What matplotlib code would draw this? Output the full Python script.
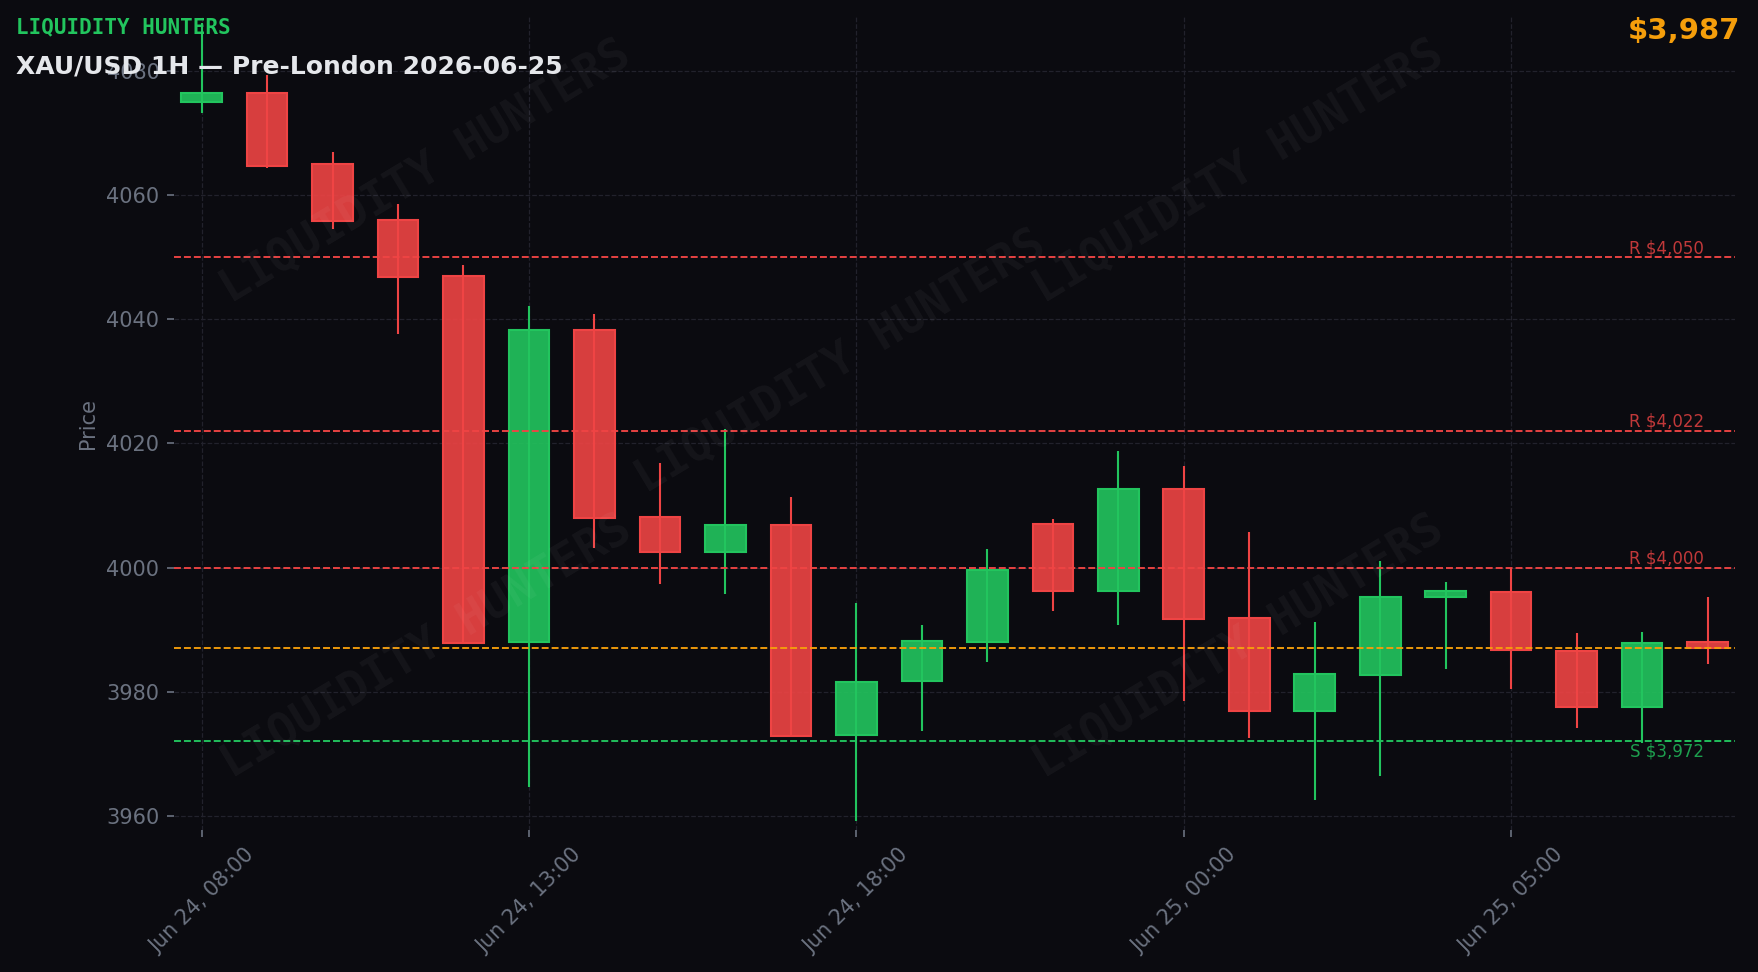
import matplotlib
matplotlib.use("Agg")
import matplotlib.pyplot as plt
from matplotlib.ticker import MultipleLocator

# hourly candles, XAU/USD (one hour missing around the daily break)
times = ["Jun 24, 08:00", "Jun 24, 09:00", "Jun 24, 10:00", "Jun 24, 11:00",
         "Jun 24, 12:00", "Jun 24, 13:00", "Jun 24, 14:00", "Jun 24, 15:00",
         "Jun 24, 16:00", "Jun 24, 17:00", "Jun 24, 18:00", "Jun 24, 19:00",
         "Jun 24, 20:00", "Jun 24, 21:00", "Jun 24, 23:00", "Jun 25, 00:00",
         "Jun 25, 01:00", "Jun 25, 02:00", "Jun 25, 03:00", "Jun 25, 04:00",
         "Jun 25, 05:00", "Jun 25, 06:00", "Jun 25, 07:00", "Jun 25, 08:00"]
opens = [4075.0, 4076.5, 4065.0, 4056.0, 4047.0, 3988.0, 4038.3, 4008.2,
         4002.5, 4006.9, 3973.0, 3981.8, 3988.0, 4007.0, 3996.3, 4012.6,
         3991.8, 3976.9, 3982.7, 3995.2, 3996.1, 3986.5, 3977.5, 3988.0]
highs = [4087.7, 4079.4, 4066.9, 4058.6, 4048.8, 4042.2, 4040.9, 4016.9,
         4022.3, 4011.4, 3994.3, 3990.8, 4003.0, 4007.9, 4018.8, 4016.4,
         4005.7, 3991.2, 4001.1, 3997.6, 4000.0, 3989.5, 3989.6, 3995.3]
lows = [4073.3, 4064.3, 4054.6, 4037.7, 3987.7, 3964.6, 4003.1, 3997.4,
        3995.7, 3972.8, 3959.2, 3973.7, 3984.8, 3993.0, 3990.8, 3978.5,
        3972.5, 3962.5, 3966.4, 3983.6, 3980.5, 3974.1, 3971.7, 3984.4]
closes = [4076.5, 4064.7, 4055.8, 4046.8, 3987.9, 4038.3, 4008.0, 4002.5,
          4006.9, 3972.9, 3981.5, 3988.2, 3999.6, 3996.3, 4012.6, 3991.7,
          3976.9, 3982.8, 3995.3, 3996.3, 3986.7, 3977.5, 3987.8, 3987.0]

resistance = [4050, 4022, 4000]
support = [3972]
last_price = 3987

BG = "#0b0b10"
GREEN = "#22c55e"
RED = "#ef4444"
ORANGE = "#f59e0b"
MUTED = "#6b7280"

fig = plt.figure(figsize=(11.72, 6.48), dpi=150, facecolor=BG)
ax = fig.add_axes([0.099, 0.146, 0.888, 0.8365])
ax.set_facecolor(BG)

x = list(range(len(times)))
cols = [GREEN if c >= o else RED for o, c in zip(opens, closes)]
bodies = [c - o for o, c in zip(opens, closes)]

ax.vlines(x, lows, highs, colors=cols, linewidth=1.0, zorder=2)
ax.bar(x, bodies, bottom=opens, width=0.62, color=cols, alpha=0.9,
       linewidth=0, zorder=3)
# edges at full opacity
ax.bar(x, bodies, bottom=opens, width=0.62, fill=False, edgecolor=cols,
       linewidth=1.0, zorder=3)

for lvl in resistance:
    ax.axhline(lvl, color=RED, linestyle="--", linewidth=0.9, zorder=4)
    ax.text(0.98, lvl, f"R ${lvl:,}", transform=ax.get_yaxis_transform(),
            ha="right", va="bottom", fontsize=8, color=RED, alpha=0.8, zorder=5)
for lvl in support:
    ax.axhline(lvl, color=GREEN, linestyle="--", linewidth=0.9, zorder=4)
    ax.text(0.98, lvl - 0.2, f"S ${lvl:,}", transform=ax.get_yaxis_transform(),
            ha="right", va="top", fontsize=8, color=GREEN, alpha=0.8, zorder=5)
ax.axhline(last_price, color=ORANGE, linestyle="--", linewidth=0.9, zorder=4)

# watermark
for wx, wy in [(0.161, 0.809), (0.682, 0.809), (0.427, 0.576),
               (0.162, 0.225), (0.682, 0.225)]:
    ax.text(wx, wy, "LIQUIDITY HUNTERS", transform=ax.transAxes, rotation=31,
            ha="center", va="center", fontsize=22, fontweight="bold",
            family="DejaVu Sans Mono", color="white", alpha=0.045, zorder=6)

ax.set_xlim(-0.42, len(times) - 1 + 0.42)
ax.set_ylim(3957.7, 4088.7)
ax.yaxis.set_major_locator(MultipleLocator(20))
ax.set_xticks(x[::5])
ax.set_xticklabels(times[::5], rotation=45)

ax.grid(True, color="#22222c", linestyle="--", linewidth=0.6, zorder=0)
ax.set_axisbelow(True)
for s in ax.spines.values():
    s.set_visible(False)
ax.tick_params(colors=MUTED, labelsize=10, labelcolor=MUTED)
ax.set_ylabel("Price", color=MUTED, fontsize=10)

fig.text(0.0089, 0.9657, "LIQUIDITY HUNTERS", color=GREEN, fontsize=10,
         fontweight="bold", family="DejaVu Sans Mono", va="baseline")
fig.text(0.0089, 0.9246, "XAU/USD 1H \u2014 Pre-London 2026-06-25",
         color="#e5e7eb", fontsize=12, fontweight="bold", va="baseline")
fig.text(0.9898, 0.9596, f"${last_price:,}", color=ORANGE, fontsize=14,
         fontweight="bold", ha="right", va="baseline")

fig.savefig("out.png", dpi=150, facecolor=BG)
